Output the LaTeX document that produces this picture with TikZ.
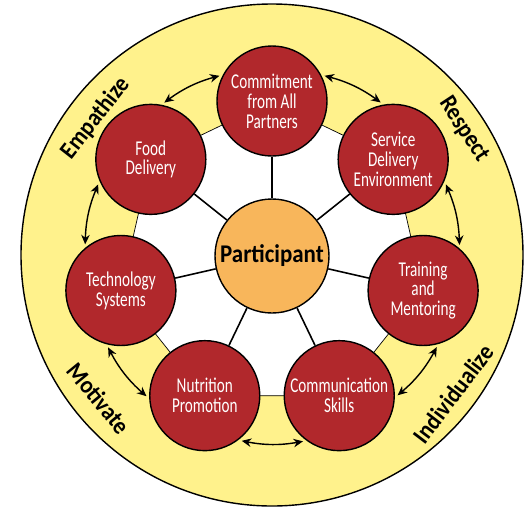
\documentclass[tikz,border=0pt]{standalone}
\usepackage{fontspec}
\setmainfont{Carlito}
\newfontfamily\condfont{Carlito}[FakeStretch=0.72]
\newfontfamily\semifont{Carlito}[FakeStretch=0.9]
\usetikzlibrary{arrows.meta}

\definecolor{ringyellow}{HTML}{FFF28C}
\definecolor{areared}{HTML}{B1282C}
\definecolor{partorange}{HTML}{F8B65B}

\begin{document}
\begin{tikzpicture}[
  ring/.style={draw, line width=0.8pt, fill=ringyellow},
  hub/.style={circle, draw, line width=0.8pt, fill=partorange, minimum size=2.28cm, inner sep=0pt,
    font=\semifont\fontsize{14.5}{15}\selectfont\bfseries},
  area/.style={circle, draw, line width=0.8pt, fill=areared, text=white, minimum size=2.2cm,
    inner sep=0pt, align=center, font=\condfont\fontsize{12}{11.3}\selectfont},
  spoke/.style={line width=0.9pt},
  link/.style={{Stealth[length=1.9mm,width=1.7mm]}-{Stealth[length=1.9mm,width=1.7mm]},
    line width=0.8pt, shorten <=2pt, shorten >=2pt, bend left=10.6},
  value/.style={font=\semifont\fontsize{14}{14}\selectfont\bfseries}
]
\useasboundingbox (-5.44,-5.2) rectangle (5.04,5.12);

% outer ring and inner heptagon
\draw[ring] (0,0.02) circle (5.02);
\draw[fill=white, line width=0.4pt] (90:3.1) -- (38.57:3.1) -- (-12.86:3.1) -- (-64.29:3.1)
  -- (-115.71:3.1) -- (-167.14:3.1) -- (141.43:3.1) -- cycle;

\node[hub] (part) at (0,0) {Participant};

\node[area] (commit) at (90:3.1) {Commitment\\from All\\Partners};
\node[area] (service) at (38.57:3.1) {Service\\Delivery\\Environment};
\node[area] (train) at (-12.86:3.1) {Training\\and\\Mentoring};
\node[area] (comm) at (-64.29:3.1) {Communication\\Skills};
\node[area] (nutri) at (-115.71:3.1) {Nutrition\\Promotion};
\node[area] (tech) at (-167.14:3.1) {Technology\\Systems};
\node[area] (food) at (141.43:3.1) {Food\\Delivery};

\draw[spoke] (part) -- (commit);
\draw[spoke] (part) -- (service);
\draw[spoke] (part) -- (train);
\draw[spoke] (part) -- (comm);
\draw[spoke] (part) -- (nutri);
\draw[spoke] (part) -- (tech);
\draw[spoke] (part) -- (food);

% two-way arrows round the ring
\draw[link] (food.79.43) to (commit.152);
\draw[link] (commit.28) to (service.100.57);
\draw[link] (service.-23.43) to (train.49.14);
\draw[link] (train.-74.86) to (comm.-2.29);
\draw[link] (comm.-126.29) to (nutri.-53.71);
\draw[link] (nutri.-177.71) to (tech.-105.14);
\draw[link] (tech.130.86) to (food.203.43);

\node[value, rotate=52] (emp) at (142:4.48) {Empathize};
\node[value, rotate=-56.6] (resp) at (33.4:4.6) {Respect};
\node[value, rotate=52.7] (indiv) at (-37.3:4.55) {Individualize};
\node[value, rotate=-50.6] (motiv) at (-140.6:4.48) {Motivate};
\end{tikzpicture}
\end{document}
